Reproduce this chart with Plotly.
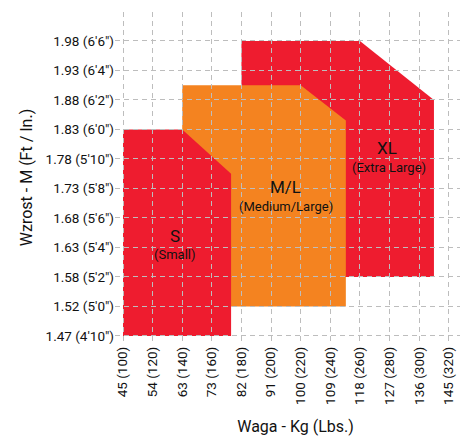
import plotly.graph_objects as go

# Axis ticks (x: weight in lbs, y: height in inches)
x_lbs = [100, 120, 140, 160, 180, 200, 220, 240, 260, 280, 300, 320]
x_labels = ["45 (100)", "54 (120)", "63 (140)", "73 (160)", "82 (180)", "91 (200)",
            "100 (220)", "109 (240)", "118 (260)", "127 (280)", "136 (300)", "145 (320)"]
y_in = [58, 60, 62, 64, 66, 68, 70, 72, 74, 76, 78]
y_labels = ["1.47 (4'10\")", "1.52 (5'0\")", "1.58 (5'2\")", "1.63 (5'4\")", "1.68 (5'6\")",
            "1.73 (5'8\")", "1.78 (5'10\")", "1.83 (6'0\")", "1.88 (6'2\")", "1.93 (6'4\")",
            "1.98 (6'6\")"]

# Size regions (polygon vertices: weight lbs, height inches)
xl_x = [180, 180, 260, 310, 310]
xl_y = [62, 78, 78, 74, 62]
ml_x = [140, 140, 220, 250.5, 250.5]
ml_y = [60, 75, 75, 72.6, 60]
s_x = [100, 100, 140, 173, 173]
s_y = [58, 72, 72, 69, 58]

RED = "#EE1C2F"
ORANGE = "#F48320"


def path(xs, ys):
    p = "M %s,%s " % (xs[0], ys[0])
    for a, b in zip(xs[1:], ys[1:]):
        p += "L %s,%s " % (a, b)
    return p + "Z"


fig = go.Figure()
fig.add_trace(go.Scatter(x=[None], y=[None], showlegend=False))

for xs, ys, c in [(xl_x, xl_y, RED), (ml_x, ml_y, ORANGE), (s_x, s_y, RED)]:
    fig.add_shape(type="path", path=path(xs, ys), xref="x", yref="y",
                  fillcolor=c, line=dict(width=0), layer="below")

FONT = "Roboto"
labels = [
    (135.2, 64.8, "S", 17), (135.2, 63.55, "(Small)", 13),
    (210, 68.1, "M/L", 17), (210, 66.8, "(Medium/Large)", 13),
    (278.5, 70.75, "XL", 17), (279.5, 69.45, "(Extra Large)", 13),
]
for x, y, t, s in labels:
    fig.add_annotation(x=x, y=y, text=t, showarrow=False, xref="x", yref="y",
                       font=dict(family=FONT, size=s, color="#111111"))

GRID = "#BDBDBD"
fig.update_xaxes(range=[94.6, 338.4], tickvals=x_lbs, ticktext=x_labels, tickangle=-90,
                 showgrid=True, gridcolor=GRID, griddash="5px,4px", gridwidth=1,
                 zeroline=False, showline=False, ticks="", automargin=False,
                 tickfont=dict(family=FONT, size=13.5, color="#111111"),
                 title=dict(text="Waga - Kg (Lbs.)", font=dict(family=FONT, size=16, color="#111111"),
                            standoff=16))
fig.update_yaxes(range=[57.52, 79.96], tickvals=y_in, ticktext=y_labels,
                 showgrid=True, gridcolor=GRID, griddash="5px,4px", gridwidth=1,
                 zeroline=False, showline=False, ticks="", automargin=False,
                 tickfont=dict(family=FONT, size=13.5, color="#111111"),
                 title=dict(text="Wzrost - M (Ft / In.)", font=dict(family=FONT, size=16, color="#111111"),
                            standoff=8))

fig.update_layout(width=468, height=438, margin=dict(l=107, r=0, t=4, b=103),
                  plot_bgcolor="white", paper_bgcolor="white", showlegend=False)

fig.write_html("out.html")
